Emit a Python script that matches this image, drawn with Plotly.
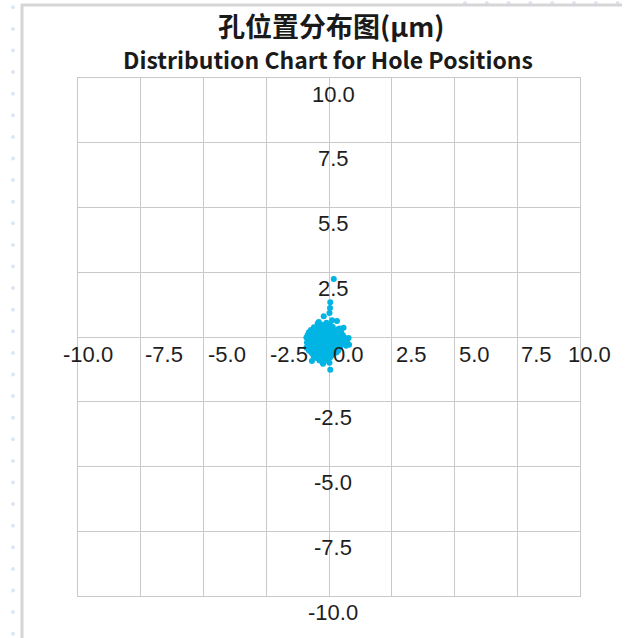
import plotly.graph_objects as go

# ---- measured hole offsets (µm) ----
x_um = [
    # tail above the cluster
    0.19, 0.05, 0.04, 0.02, -0.21, 0.12, 0.32, -0.41, 0.58, 0.78, 0.80, -0.88, -0.68, -0.24, 0.05,
    # y ~ 0.5
    -0.45, -0.30, -0.10, 0.05,
    # y ~ 0.4
    -0.60, -0.38, -0.20, -0.02, 0.15, 0.42,
    # y ~ 0.3
    -0.72, -0.50, -0.33, -0.15, 0.00, 0.20, 0.35,
    # y ~ 0.2
    -0.80, -0.62, -0.45, -0.28, -0.12, 0.05, 0.22, 0.48,
    # y ~ 0.1
    -0.85, -0.68, -0.52, -0.37, -0.20, -0.05, 0.10, 0.27, 0.55,
    # y ~ 0.0
    -0.90, -0.75, -0.58, -0.42, -0.26, -0.10, 0.06, 0.20, 0.38, 0.62,
    # y ~ -0.1
    -0.82, -0.66, -0.50, -0.34, -0.18, -0.03, 0.13, 0.30, 0.50, 0.72,
    # y ~ -0.2
    -0.88, -0.70, -0.55, -0.40, -0.24, -0.08, 0.08, 0.24, 0.40, 0.58,
    # y ~ -0.3
    -0.84, -0.64, -0.47, -0.31, -0.15, 0.01, 0.17, 0.33, 0.52, 0.68,
    # y ~ -0.4
    -0.90, -0.73, -0.56, -0.39, -0.22, -0.06, 0.10, 0.26, 0.44,
    # y ~ -0.5
    -0.80, -0.60, -0.44, -0.28, -0.12, 0.04, 0.20, 0.37,
    # y ~ -0.6
    -0.70, -0.52, -0.35, -0.18, -0.02, 0.15, 0.30,
    # y ~ -0.7
    -0.62, -0.42, -0.25, -0.08, 0.10,
    # y ~ -0.8
    -0.50, -0.30, -0.12, 0.05,
    # y ~ -0.9 / -1.0
    -0.38, -0.20, 0.02,
    # extra core holes
    -0.31, -0.44, -0.15, -0.58, -0.02, -0.36, -0.22, -0.49, 0.11, -0.27,
]
y_um = [
    2.24, 1.34, 1.12, 0.93, 0.80, 0.65, 0.62, 0.58, 0.36, -0.04, -0.30, -0.42, -0.93, -1.03, -1.26,
    0.52, 0.48, 0.55, 0.46,
    0.38, 0.43, 0.36, 0.41, 0.39, 0.33,
    0.27, 0.31, 0.26, 0.33, 0.29, 0.24, 0.30,
    0.18, 0.22, 0.17, 0.21, 0.19, 0.23, 0.16, 0.20,
    0.08, 0.12, 0.07, 0.11, 0.09, 0.13, 0.06, 0.10, 0.08,
    -0.02, 0.01, -0.03, 0.02, -0.01, 0.03, -0.04, 0.00, 0.02, -0.03,
    -0.12, -0.08, -0.11, -0.09, -0.13, -0.07, -0.10, -0.12, -0.08, -0.14,
    -0.21, -0.18, -0.22, -0.19, -0.23, -0.17, -0.20, -0.22, -0.18, -0.21,
    -0.31, -0.28, -0.33, -0.29, -0.32, -0.27, -0.30, -0.33, -0.28, -0.34,
    -0.41, -0.38, -0.42, -0.39, -0.43, -0.37, -0.40, -0.42, -0.39,
    -0.52, -0.48, -0.51, -0.49, -0.53, -0.47, -0.50, -0.52,
    -0.61, -0.58, -0.63, -0.59, -0.62, -0.57, -0.60,
    -0.72, -0.69, -0.73, -0.68, -0.71,
    -0.81, -0.79, -0.83, -0.78,
    -0.91, -0.96, -0.99,
    -0.15, -0.25, 0.05, -0.35, -0.45, 0.15, -0.55, 0.05, -0.25, -0.65,
]

x_ticks = [-10.0, -7.5, -5.0, -2.5, 0.0, 2.5, 5.0, 7.5, 10.0]
x_tick_text = ["-10.0", "-7.5", "-5.0", "-2.5", "0.0", "2.5", "5.0", "7.5", "10.0"]
y_ticks = [10.0, 7.5, 5.0, 2.5, -2.5, -5.0, -7.5, -10.0]
y_tick_text = ["10.0", "7.5", "5.5", "2.5", "-2.5", "-5.0", "-7.5", "-10.0"]

title_cn = "孔位置分布图(μm)"
title_en = "Distribution Chart for Hole Positions"

# ---- page geometry ----
W, H = 632, 638
ML, MR, MT, MB = 78, 52, 78, 42
PW, PH = W - ML - MR, H - MT - MB
GRID = "#c9c9c9"
DOT = "#00b4e4"
LABEL_FONT = dict(family="Liberation Sans, Arial, sans-serif", size=22, color="#1e1e1e")
TITLE_FONT = "Noto Sans CJK SC, sans-serif"


def px(x):
    return (x - ML) / PW


def py(y):
    return (H - MB - y) / PH


fig = go.Figure()
fig.add_trace(go.Scatter(
    x=x_um, y=y_um, mode="markers",
    marker=dict(color=DOT, size=6, line=dict(width=0)),
    hoverinfo="x+y", showlegend=False,
))

axis_common = dict(
    range=[-10, 10], dtick=2.5, tick0=0, showgrid=True, gridcolor=GRID, gridwidth=1,
    zeroline=True, zerolinecolor=GRID, zerolinewidth=1,
    showline=True, linecolor=GRID, linewidth=1, mirror=True,
    showticklabels=False, ticks="", fixedrange=True,
)
fig.update_xaxes(**axis_common)
fig.update_yaxes(**axis_common)

annotations = []
# x labels along the y = 0 line
x_label_dx = [-17, 2, 2, 2, 2, 2, 2, 2, -14]
for v, t, dx in zip(x_ticks, x_tick_text, x_label_dx):
    annotations.append(dict(
        x=v, y=0, xref="x", yref="y", text=t, showarrow=False,
        xanchor="left", yanchor="middle", xshift=dx, yshift=-17, font=LABEL_FONT,
    ))
# y labels along the x = 0 line
for v, t in zip(y_ticks, y_tick_text):
    annotations.append(dict(
        x=0, y=v, xref="x", yref="y", text=t, showarrow=False,
        xanchor="center", yanchor="middle", xshift=4, yshift=-16, font=LABEL_FONT,
    ))
# titles
annotations.append(dict(
    x=px(331), y=py(25), xref="paper", yref="paper", text="<b>" + title_cn + "</b>",
    showarrow=False, xanchor="center", yanchor="middle",
    font=dict(family=TITLE_FONT, size=27, color="#1a1a1a"),
))
annotations.append(dict(
    x=px(328), y=py(59), xref="paper", yref="paper", text="<b>" + title_en + "</b>",
    showarrow=False, xanchor="center", yanchor="middle",
    font=dict(family=TITLE_FONT, size=23, color="#1a1a1a"),
))

# page frame: grey rule on left and top, pale dotted guides
shapes = [
    dict(type="line", xref="paper", yref="paper", x0=px(22), x1=px(22), y0=py(4), y1=py(H + 2),
         line=dict(color="#d6d6d6", width=3)),
    dict(type="line", xref="paper", yref="paper", x0=px(21), x1=px(622), y0=py(5), y1=py(5),
         line=dict(color="#d6d6d6", width=3)),
]
r = 2
yy = 7.3
while yy < H + 3:
    shapes.append(dict(type="circle", xref="paper", yref="paper",
                       x0=px(13 - r), x1=px(13 + r), y0=py(yy + r), y1=py(yy - r),
                       fillcolor="#dde7f3", line=dict(width=0), layer="below"))
    yy += 21.6
xx = 465
while xx < 620:
    shapes.append(dict(type="circle", xref="paper", yref="paper",
                       x0=px(xx - r), x1=px(xx + r), y0=py(3 + r), y1=py(3 - r),
                       fillcolor="#dde7f3", line=dict(width=0), layer="below"))
    xx += 21.8

fig.update_layout(
    width=W, height=H,
    margin=dict(l=ML, r=MR, t=MT, b=MB, pad=0),
    paper_bgcolor="white", plot_bgcolor="white",
    annotations=annotations, shapes=shapes,
    showlegend=False,
)

fig.write_html("out.html", config={"displayModeBar": False})
